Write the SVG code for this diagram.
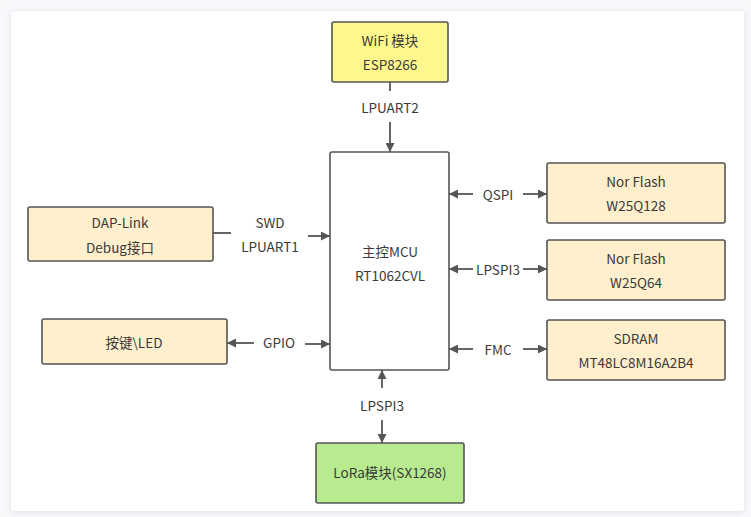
<svg xmlns="http://www.w3.org/2000/svg" width="751" height="517" viewBox="0 0 751 517">
<defs>
<marker id="ah" viewBox="0 0 10 10" refX="10" refY="5" markerWidth="5" markerHeight="5" markerUnits="strokeWidth" orient="auto">
<path d="M0,0 L10,5 L0,10 z" fill="#555"/>
</marker>
<filter id="sh" x="-5%" y="-5%" width="110%" height="110%">
<feDropShadow dx="0" dy="1" stdDeviation="3" flood-color="#c8cbd6" flood-opacity="0.5"/>
</filter>
</defs>
<style>
.box{stroke:#555;stroke-width:1.6}
.beige{fill:#ffefcc}
.t{font-family:"Noto Sans CJK SC","Open Sans",sans-serif;font-size:13.5px;fill:#3a3a3a;text-anchor:middle;dominant-baseline:central}
.c{stroke:#555;stroke-width:1.8;fill:none}
.a{marker-end:url(#ah)}
</style>
<rect x="0" y="0" width="751" height="517" fill="#f7f8fa"/>
<rect x="11" y="11" width="733" height="500" rx="3" fill="#ffffff" filter="url(#sh)"/>

<g id="connectors">
<line class="c" x1="390" y1="82" x2="390" y2="91"/>
<line class="c a" x1="390" y1="122" x2="390" y2="152"/>
<line class="c" x1="213" y1="233" x2="231" y2="233"/>
<line class="c a" x1="308" y1="236" x2="330" y2="236"/>
<line class="c a" x1="254" y1="343" x2="227" y2="343"/>
<line class="c a" x1="305" y1="344" x2="330" y2="344"/>
<line class="c a" x1="473" y1="194" x2="449" y2="194"/>
<line class="c a" x1="523" y1="194" x2="547" y2="194"/>
<line class="c a" x1="473" y1="269" x2="449" y2="269"/>
<line class="c a" x1="523" y1="269" x2="547" y2="269"/>
<line class="c a" x1="473" y1="349" x2="449" y2="349"/>
<line class="c a" x1="523" y1="349" x2="547" y2="349"/>
<line class="c a" x1="382" y1="388" x2="382" y2="370"/>
<line class="c a" x1="382" y1="420" x2="382" y2="443"/>
<text class="t" x="390" y="107">LPUART2</text>
<text class="t" x="270" y="222">SWD</text>
<text class="t" x="270" y="246">LPUART1</text>
<text class="t" x="279" y="342">GPIO</text>
<text class="t" x="498" y="194">QSPI</text>
<text class="t" x="498" y="269">LPSPI3</text>
<text class="t" x="498" y="349">FMC</text>
<text class="t" x="382" y="405">LPSPI3</text>
</g>

<g id="wifi">
<rect class="box" x="332" y="22" width="116" height="60" rx="2" fill="#fff78c"/>
<text class="t" x="390" y="40">WiFi 模块</text>
<text class="t" x="390" y="64">ESP8266</text>
</g>
<g id="mcu">
<rect class="box" x="330" y="152" width="119" height="218" rx="2" fill="#ffffff"/>
<text class="t" x="390" y="251">主控MCU</text>
<text class="t" x="390" y="275">RT1062CVL</text>
</g>
<g id="daplink">
<rect class="box beige" x="28" y="207" width="185" height="54" rx="2"/>
<text class="t" x="120" y="222">DAP-Link</text>
<text class="t" x="120" y="247">Debug接口</text>
</g>
<g id="keyled">
<rect class="box beige" x="42" y="319" width="185" height="45" rx="2"/>
<text class="t" x="134" y="342">按键\LED</text>
</g>
<g id="norflash1">
<rect class="box beige" x="547" y="163" width="178" height="60" rx="2"/>
<text class="t" x="636" y="181">Nor Flash</text>
<text class="t" x="636" y="205">W25Q128</text>
</g>
<g id="norflash2">
<rect class="box beige" x="547" y="240" width="178" height="60" rx="2"/>
<text class="t" x="636" y="258">Nor Flash</text>
<text class="t" x="636" y="282">W25Q64</text>
</g>
<g id="sdram">
<rect class="box beige" x="547" y="320" width="178" height="60" rx="2"/>
<text class="t" x="636" y="338">SDRAM</text>
<text class="t" x="636" y="362">MT48LC8M16A2B4</text>
</g>
<g id="lora">
<rect class="box" x="316" y="443" width="148" height="60" rx="2" fill="#b8eb8f"/>
<text class="t" x="390" y="472">LoRa模块(SX1268)</text>
</g>
</svg>
